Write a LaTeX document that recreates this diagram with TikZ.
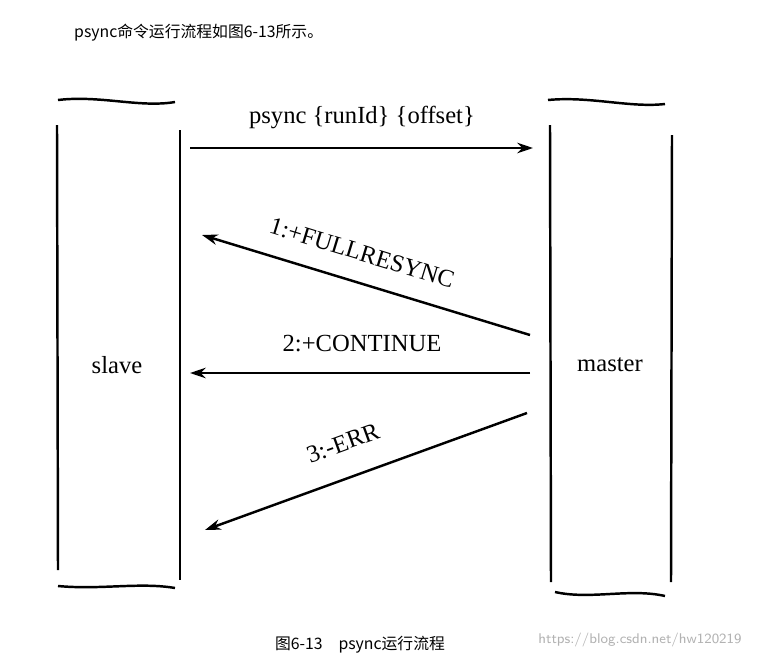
\documentclass[tikz,border=0pt]{standalone}
\usepackage{fontspec}
\setmainfont{Liberation Serif}
\newfontfamily\cjk{Noto Sans CJK SC}
\usetikzlibrary{arrows.meta}
\begin{document}
\begin{tikzpicture}[x=0.02cm,y=-0.02cm,
  edge/.style={line width=1.4pt},
  arr/.style={line width=1.4pt,-{Stealth[length=9pt,width=6pt]}},
  lbl/.style={font=\fontsize{14}{16}\selectfont},
  cjkt/.style={font=\cjk\fontsize{9}{11}\selectfont}]
\useasboundingbox (0,0) rectangle (758,660);
\fill[white] (0,0) rectangle (758,660);
\node[cjkt,anchor=west] (top) at (68,33) {psync命令运行流程如图6-13所示。};
% slave
\draw[edge] (58,100) .. controls (100,95) and (140,108) .. (175,102);
\draw[edge] (57,125) -- (58,570);
\draw[edge] (180,130) -- (180,580);
\draw[edge] (58,586) .. controls (100,590) and (140,582) .. (175,588);
\node[lbl] (slave) at (117,365) {slave};
% master
\draw[edge] (548,100) .. controls (590,96) and (630,108) .. (665,104);
\draw[edge] (550,125) -- (551,582);
\draw[edge] (672,135) -- (671,582);
\draw[edge] (555,592) .. controls (590,600) and (630,588) .. (665,596);
\node[lbl] (master) at (610,365) {master};
% arrows
\coordinate (a1s) at (190,148); \coordinate (a1e) at (533,148);
\draw[arr] (a1s) -- (a1e);
\node[lbl] (l1) at (362,117) {psync \{runId\} \{offset\}};
\coordinate (a2s) at (530,335); \coordinate (a2e) at (202,235);
\draw[arr] (a2s) -- (a2e);
\node[lbl,rotate=-17] (l2) at (362,253) {1:+FULLRESYNC};
\coordinate (a3s) at (530,373); \coordinate (a3e) at (190,373);
\draw[arr] (a3s) -- (a3e);
\node[lbl] (l3) at (362,344) {2:+CONTINUE};
\coordinate (a4s) at (527,413); \coordinate (a4e) at (205,530);
\draw[arr] (a4s) -- (a4e);
\node[lbl,rotate=20] (l4) at (343,443) {3:-ERR};
\node[cjkt] (cap) at (360,645) {图6-13\quad psync运行流程};
\node[font=\sffamily\fontsize{8}{10}\selectfont,text=black!30] (wm) at (640,640) {https://blog.csdn.net/hw120219};
\end{tikzpicture}
\end{document}
